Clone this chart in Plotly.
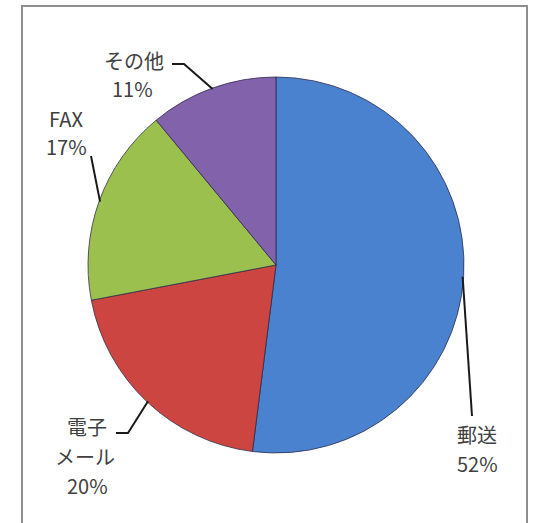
import math
import plotly.graph_objects as go

# ---- data ----
labels = ["郵送", "電子メール", "FAX", "その他"]
values = [52, 20, 17, 11]
colors = ["#4a82cf", "#cc4541", "#9bc04e", "#8262aa"]

# label text lines (as shown in the chart)
label_lines = {
    "郵送": ["郵送", "52%"],
    "電子メール": ["電子", "メール", "20%"],
    "FAX": ["FAX", "17%"],
    "その他": ["その他", "11%"],
}

W, H = 535, 523
CX, CY, R = 276, 265, 188  # pie centre / radius in pixels

def px(x):
    return x / W

def py(y):
    return 1 - y / H

fig = go.Figure()
fig.add_trace(go.Pie(
    labels=labels,
    values=values,
    sort=False,
    direction="clockwise",
    rotation=0,
    textinfo="none",
    hoverinfo="label+percent",
    marker=dict(colors=colors, line=dict(color="rgba(40,40,70,0.75)", width=1)),
    domain=dict(x=[px(CX - R), px(CX + R)], y=[py(CY + R), py(CY - R)]),
    showlegend=False,
))

# anchor points on the pie edge at each slice's mid-angle (from the data)
total = sum(values)
anchors = {}
cum = 0
for lab, v in zip(labels, values):
    mid = (cum + v / 2) / total * 2 * math.pi
    anchors[lab] = (CX + (R - 1) * math.sin(mid), CY - (R - 1) * math.cos(mid))
    cum += v

# label text placement (pixel centres of each line) and leader elbows
text_pos = {
    "郵送": [(477, 434), (477, 463)],
    "電子メール": [(87, 426), (85, 456), (87, 485)],
    "FAX": [(66, 119), (66, 147)],
    "その他": [(134, 61), (132, 88)],
}
leader_start = {
    "郵送": [(472, 416)],
    "電子メール": [(116, 433), (128, 433)],
    "FAX": [(91, 156)],
    "その他": [(172, 64), (184, 64)],
}

annotations = []
for lab in labels:
    for line, (x, y) in zip(label_lines[lab], text_pos[lab]):
        annotations.append(dict(
            x=px(x), y=py(y), xref="paper", yref="paper",
            text=line, showarrow=False, xanchor="center", yanchor="middle",
            font=dict(family="Noto Sans CJK JP, Noto Sans, sans-serif", size=20, color="#404040"),
        ))

shapes = []
for lab in labels:
    pts = leader_start[lab] + [anchors[lab]]
    path = "M " + " L ".join(f"{px(x):.5f},{py(y):.5f}" for x, y in pts)
    shapes.append(dict(type="path", xref="paper", yref="paper", path=path,
                       line=dict(color="#1a1a1a", width=2)))

# chart frame
shapes.append(dict(type="rect", xref="paper", yref="paper",
                   x0=px(22), x1=px(527), y0=py(530), y1=py(6),
                   line=dict(color="#8f8f8f", width=2), fillcolor="rgba(0,0,0,0)"))

fig.update_layout(
    width=W, height=H,
    margin=dict(l=0, r=0, t=0, b=0),
    paper_bgcolor="white", plot_bgcolor="white",
    annotations=annotations,
    shapes=shapes,
)

fig.write_html(
    "out.html",
    config={"displayModeBar": False},
    post_script="document.body.style.margin='0';document.body.style.overflow='hidden';",
)
